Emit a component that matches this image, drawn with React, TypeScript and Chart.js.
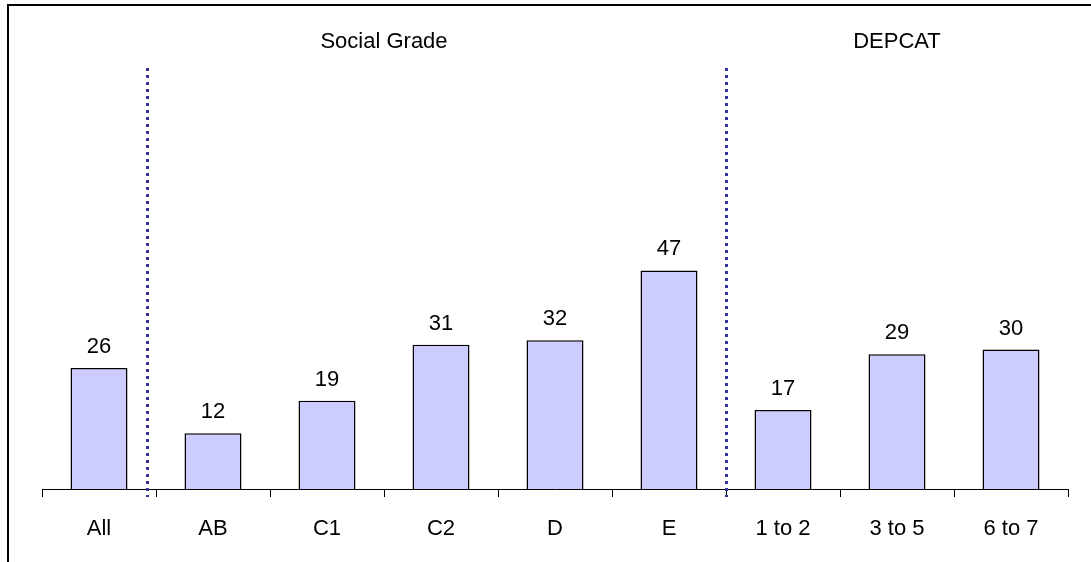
import React, { useEffect, useRef } from "react";
import { Chart, registerables } from "chart.js";

Chart.register(...registerables);

const categories = ["All", "AB", "C1", "C2", "D", "E", "1 to 2", "3 to 5", "6 to 7"];
const values = [26, 12, 19, 31, 32, 47, 17, 29, 30];
const groupLabels = ["Social Grade", "DEPCAT"];
const groupCenters = [2.5, 7];
const separators = [0.42, 5.5];

const FONT = "Arial, 'Liberation Sans', sans-serif";

const overlay = {
  id: "overlay",
  beforeDraw(chart: any) {
    const ctx = chart.ctx;
    ctx.save();
    ctx.fillStyle = "#ffffff";
    ctx.fillRect(0, 0, chart.width, chart.height);
    ctx.strokeStyle = "#000000";
    ctx.lineWidth = 2;
    ctx.beginPath();
    ctx.moveTo(8, chart.height + 10);
    ctx.lineTo(8, 5);
    ctx.lineTo(chart.width + 10, 5);
    ctx.stroke();
    ctx.restore();
  },
  afterDatasetsDraw(chart: any) {
    const ctx = chart.ctx;
    const x = chart.scales.x;
    const meta = chart.getDatasetMeta(0);
    ctx.save();
    ctx.fillStyle = "#000000";
    ctx.font = `22px ${FONT}`;
    ctx.textAlign = "center";
    ctx.textBaseline = "alphabetic";
    meta.data.forEach((bar: any, i: number) => {
      ctx.fillText(String(values[i]), bar.x, bar.y - 15);
    });
    groupLabels.forEach((g, i) => {
      ctx.fillText(g, x.getPixelForValue(groupCenters[i]), 48);
    });
    ctx.strokeStyle = "#333399";
    ctx.lineWidth = 3;
    ctx.setLineDash([3, 4]);
    separators.forEach((s) => {
      const px = Math.round(x.getPixelForValue(s)) + 0.5;
      ctx.beginPath();
      ctx.moveTo(px, 68);
      ctx.lineTo(px, 497);
      ctx.stroke();
    });
    ctx.restore();
  },
};

export default function App() {
  const ref = useRef<HTMLCanvasElement>(null);
  useEffect(() => {
    document.body.style.margin = "0";
    const chart = new Chart(ref.current!, {
      type: "bar",
      data: {
        labels: categories,
        datasets: [
          {
            data: values,
            backgroundColor: "#CCCCFF",
            borderColor: "#000000",
            borderWidth: 1.5,
            barPercentage: 0.5,
            categoryPercentage: 1,
          },
        ],
      },
      options: {
        animation: false,
        responsive: false,
        maintainAspectRatio: false,
        layout: { padding: { left: 42, right: 23, top: 24, bottom: 0 } },
        plugins: { legend: { display: false }, tooltip: { enabled: false }, title: { display: false } },
        scales: {
          x: {
            afterFit: (scale: any) => {
              scale.height = 73;
            },
            grid: {
              drawOnChartArea: false,
              drawTicks: true,
              tickLength: 8,
              color: "#000000",
              offset: true,
            },
            border: { display: true, color: "#000000", width: 1 },
            ticks: {
              color: "#000000",
              font: { family: FONT, size: 22 },
              padding: 19,
              maxRotation: 0,
              autoSkip: false,
            },
          },
          y: {
            display: false,
            min: 0,
            max: 100,
          },
        },
      },
      plugins: [overlay],
    });
    return () => chart.destroy();
  }, []);
  return <canvas ref={ref} width={1091} height={562} style={{ display: "block" }} />;
}
